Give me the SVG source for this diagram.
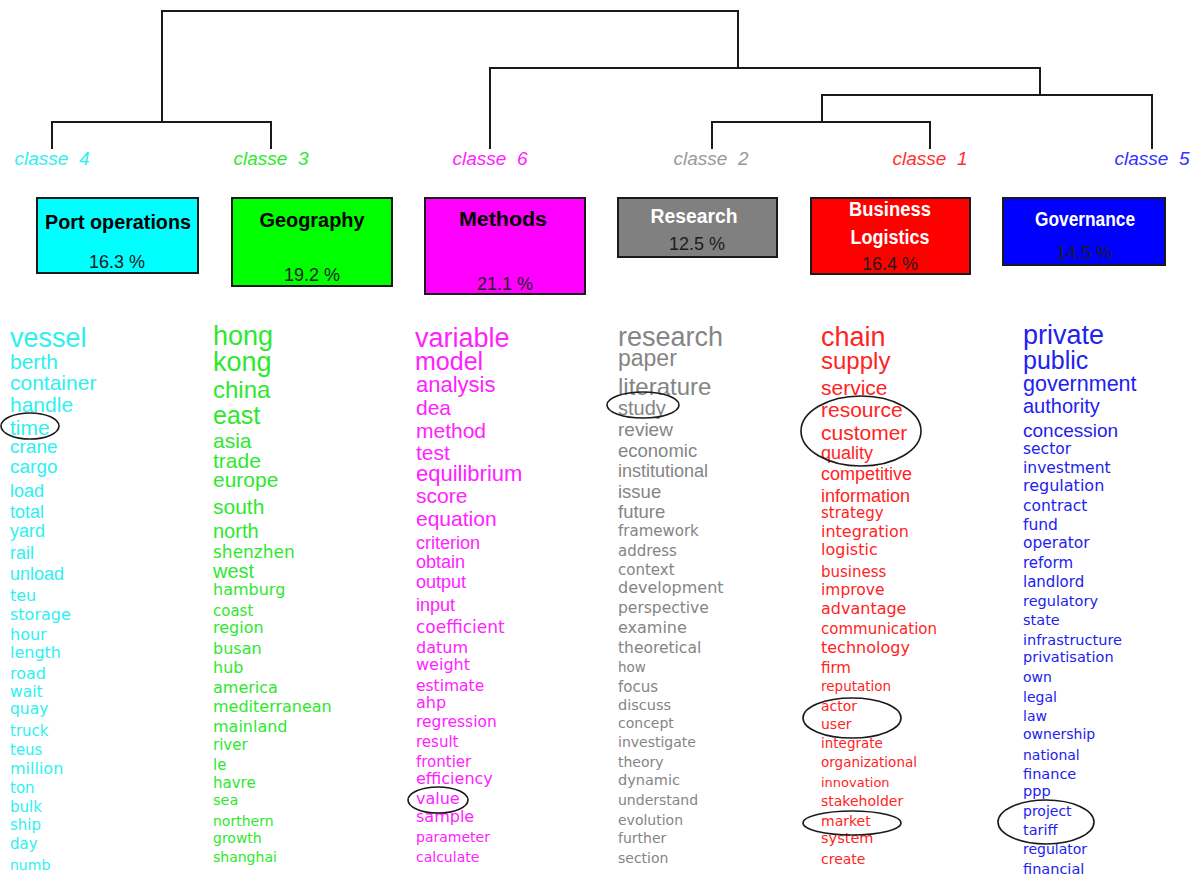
<svg xmlns="http://www.w3.org/2000/svg" width="1196" height="877" viewBox="0 0 1196 877">
<style>
.bg{fill:#ffffff}
.link{fill:none;stroke:#1a1a1a;stroke-width:2}
.cl{font-family:"Liberation Sans",Arial,sans-serif;font-style:italic;font-size:19px;text-anchor:middle}
.box{stroke:#1a1a1a;stroke-width:2}
.tt{font-family:"Liberation Sans",Arial,sans-serif;font-weight:bold;font-size:20px;text-anchor:middle}
.pc{font-family:"Liberation Sans",Arial,sans-serif;font-size:18px;text-anchor:middle;fill:#1c1c1c}
.A{font-family:"Liberation Sans",Arial,sans-serif}
.D{font-family:"DejaVu Sans",Verdana,sans-serif}
.k4{fill:#2ff0f0}.k3{fill:#2ee82e}.k6{fill:#ff22ff}.k2{fill:#858585}.k1{fill:#ff2424}.k5{fill:#2222ee}
.hl{fill:none;stroke:#1a1a1a;stroke-width:1.6}
</style>
<rect class="bg" x="0" y="0" width="1196" height="877"/>
<g id="connectors">
<path class="link" d="M162,122 V11 H738 V68"/>
<path class="link" d="M52,149 V122 H271 V149"/>
<path class="link" d="M490,149 V68 H1040 V95"/>
<path class="link" d="M822,122 V95 H1152 V149"/>
<path class="link" d="M712,149 V122 H930 V149"/>
</g>
<g id="class4">
<text class="cl k4" x="52" y="165" xml:space="preserve">classe  4</text>
<rect class="box" x="37" y="198" width="161" height="75" fill="#00ffff"/>
<text class="tt" x="118" y="229" fill="#000" textLength="146" lengthAdjust="spacingAndGlyphs">Port operations</text>
<text class="pc" x="117" y="268">16.3 %</text>
</g>
<g id="class3">
<text class="cl k3" x="271" y="165" xml:space="preserve">classe  3</text>
<rect class="box" x="232" y="198" width="160" height="88" fill="#00ff00"/>
<text class="tt" x="312" y="227" fill="#000" textLength="105" lengthAdjust="spacingAndGlyphs">Geography</text>
<text class="pc" x="312" y="281">19.2 %</text>
</g>
<g id="class6">
<text class="cl k6" x="490" y="165" xml:space="preserve">classe  6</text>
<rect class="box" x="425" y="198" width="160" height="96" fill="#ff00ff"/>
<text class="tt" x="503" y="226" fill="#000" textLength="88" lengthAdjust="spacingAndGlyphs">Methods</text>
<text class="pc" x="505" y="290">21.1 %</text>
</g>
<g id="class2">
<text class="cl" x="711" y="165" fill="#999999" xml:space="preserve">classe  2</text>
<rect class="box" x="618" y="198" width="159" height="59" fill="#808080"/>
<text class="tt" x="694" y="223" fill="#ffffff" textLength="87" lengthAdjust="spacingAndGlyphs">Research</text>
<text class="pc" x="697" y="250">12.5 %</text>
</g>
<g id="class1">
<text class="cl" x="930" y="165" fill="#ff3030" xml:space="preserve">classe  1</text>
<rect class="box" x="811" y="198" width="159" height="76" fill="#ff0000"/>
<text class="tt" x="890" y="216" fill="#ffffff" textLength="82" lengthAdjust="spacingAndGlyphs">Business</text>
<text class="tt" x="890" y="244" fill="#ffffff" textLength="79" lengthAdjust="spacingAndGlyphs">Logistics</text>
<text class="pc" x="890" y="270">16.4 %</text>
</g>
<g id="class5">
<text class="cl" x="1152" y="165" fill="#3333ff" xml:space="preserve">classe  5</text>
<rect class="box" x="1003" y="198" width="162" height="67" fill="#0000ff"/>
<text class="tt" x="1085" y="226" fill="#ffffff" textLength="100" lengthAdjust="spacingAndGlyphs">Governance</text>
<text class="pc" x="1084" y="259">14.5 %</text>
</g>
<g id="words-class4" class="k4">
<text class="A" x="10" y="347" font-size="27">vessel</text>
<text class="A" x="10" y="369" font-size="21">berth</text>
<text class="A" x="10" y="390" font-size="21">container</text>
<text class="A" x="10" y="412" font-size="21">handle</text>
<text class="A" x="10" y="435" font-size="21">time</text>
<text class="A" x="10" y="453" font-size="19">crane</text>
<text class="A" x="10" y="473" font-size="19">cargo</text>
<text class="A" x="10" y="497" font-size="18">load</text>
<text class="A" x="10" y="518" font-size="18">total</text>
<text class="A" x="10" y="537" font-size="18">yard</text>
<text class="A" x="10" y="559" font-size="18">rail</text>
<text class="A" x="10" y="580" font-size="18">unload</text>
<text class="D" x="10" y="601" font-size="16">teu</text>
<text class="D" x="10" y="620" font-size="16">storage</text>
<text class="D" x="10" y="640" font-size="16">hour</text>
<text class="D" x="10" y="658" font-size="16">length</text>
<text class="D" x="10" y="679" font-size="16">road</text>
<text class="D" x="10" y="697" font-size="15.5">wait</text>
<text class="D" x="10" y="714" font-size="15.5">quay</text>
<text class="D" x="10" y="736" font-size="15">truck</text>
<text class="D" x="10" y="755" font-size="15">teus</text>
<text class="D" x="10" y="774" font-size="16">million</text>
<text class="D" x="10" y="793" font-size="15">ton</text>
<text class="D" x="10" y="812" font-size="15">bulk</text>
<text class="D" x="10" y="830" font-size="15">ship</text>
<text class="D" x="10" y="849" font-size="15">day</text>
<text class="D" x="10" y="870" font-size="14">numb</text>
</g>
<g id="words-class3" class="k3">
<text class="A" x="213" y="345" font-size="27">hong</text>
<text class="A" x="213" y="371" font-size="27">kong</text>
<text class="A" x="213" y="398" font-size="24">china</text>
<text class="A" x="213" y="424" font-size="25">east</text>
<text class="A" x="213" y="448" font-size="21">asia</text>
<text class="A" x="213" y="468" font-size="21">trade</text>
<text class="A" x="213" y="487" font-size="21">europe</text>
<text class="A" x="213" y="514" font-size="21">south</text>
<text class="A" x="213" y="538" font-size="20">north</text>
<text class="D" x="213" y="558" font-size="17">shenzhen</text>
<text class="A" x="213" y="578" font-size="20">west</text>
<text class="D" x="213" y="595" font-size="16">hamburg</text>
<text class="D" x="213" y="616" font-size="15">coast</text>
<text class="D" x="213" y="633" font-size="16">region</text>
<text class="D" x="213" y="654" font-size="16">busan</text>
<text class="D" x="213" y="673" font-size="16">hub</text>
<text class="D" x="213" y="693" font-size="16">america</text>
<text class="D" x="213" y="712" font-size="16">mediterranean</text>
<text class="D" x="213" y="732" font-size="16">mainland</text>
<text class="D" x="213" y="750" font-size="15">river</text>
<text class="D" x="213" y="770" font-size="15">le</text>
<text class="D" x="213" y="788" font-size="15">havre</text>
<text class="D" x="213" y="805" font-size="14.5">sea</text>
<text class="D" x="213" y="826" font-size="14">northern</text>
<text class="D" x="213" y="843" font-size="14">growth</text>
<text class="D" x="213" y="862" font-size="14">shanghai</text>
</g>
<g id="words-class6" class="k6">
<text class="A" x="415" y="347" font-size="27">variable</text>
<text class="A" x="415" y="370" font-size="25">model</text>
<text class="A" x="416" y="392" font-size="22">analysis</text>
<text class="A" x="416" y="415" font-size="21">dea</text>
<text class="A" x="416" y="438" font-size="21">method</text>
<text class="A" x="416" y="460" font-size="21">test</text>
<text class="A" x="416" y="481" font-size="22">equilibrium</text>
<text class="A" x="416" y="503" font-size="21">score</text>
<text class="A" x="416" y="526" font-size="21">equation</text>
<text class="A" x="416" y="549" font-size="18">criterion</text>
<text class="A" x="416" y="568" font-size="18">obtain</text>
<text class="A" x="416" y="588" font-size="18">output</text>
<text class="A" x="416" y="611" font-size="18">input</text>
<text class="D" x="416" y="633" font-size="17">coefficient</text>
<text class="D" x="416" y="653" font-size="16">datum</text>
<text class="D" x="416" y="670" font-size="16">weight</text>
<text class="D" x="416" y="691" font-size="15.5">estimate</text>
<text class="D" x="416" y="708" font-size="16">ahp</text>
<text class="D" x="416" y="727" font-size="15.5">regression</text>
<text class="D" x="416" y="747" font-size="15">result</text>
<text class="D" x="416" y="767" font-size="15">frontier</text>
<text class="D" x="416" y="784" font-size="16">efficiency</text>
<text class="D" x="416" y="804" font-size="16">value</text>
<text class="D" x="416" y="822" font-size="16">sample</text>
<text class="D" x="416" y="842" font-size="14">parameter</text>
<text class="D" x="416" y="862" font-size="14">calculate</text>
</g>
<g id="words-class2" class="k2">
<text class="A" x="618" y="346" font-size="27">research</text>
<text class="A" x="618" y="366" font-size="23">paper</text>
<text class="A" x="618" y="395" font-size="24">literature</text>
<text class="A" x="618" y="415" font-size="20">study</text>
<text class="A" x="618" y="436" font-size="19">review</text>
<text class="A" x="618" y="457" font-size="18.5">economic</text>
<text class="A" x="618" y="477" font-size="18">institutional</text>
<text class="A" x="618" y="498" font-size="18.5">issue</text>
<text class="A" x="618" y="518" font-size="18.5">future</text>
<text class="D" x="618" y="536" font-size="15">framework</text>
<text class="D" x="618" y="556" font-size="15">address</text>
<text class="D" x="618" y="575" font-size="15">context</text>
<text class="D" x="618" y="593" font-size="16">development</text>
<text class="D" x="618" y="613" font-size="15.5">perspective</text>
<text class="D" x="618" y="633" font-size="16">examine</text>
<text class="D" x="618" y="653" font-size="15.5">theoretical</text>
<text class="D" x="618" y="672" font-size="13.5">how</text>
<text class="D" x="618" y="692" font-size="15">focus</text>
<text class="D" x="618" y="710" font-size="14.5">discuss</text>
<text class="D" x="618" y="728" font-size="14">concept</text>
<text class="D" x="618" y="747" font-size="14">investigate</text>
<text class="D" x="618" y="767" font-size="14">theory</text>
<text class="D" x="618" y="785" font-size="14.5">dynamic</text>
<text class="D" x="618" y="805" font-size="14">understand</text>
<text class="D" x="618" y="825" font-size="14">evolution</text>
<text class="D" x="618" y="843" font-size="14">further</text>
<text class="D" x="618" y="863" font-size="14">section</text>
</g>
<g id="words-class1" class="k1">
<text class="A" x="821" y="346" font-size="27">chain</text>
<text class="A" x="821" y="369" font-size="24">supply</text>
<text class="A" x="821" y="395" font-size="21">service</text>
<text class="A" x="821" y="417" font-size="21">resource</text>
<text class="A" x="821" y="440" font-size="21">customer</text>
<text class="A" x="821" y="459" font-size="18">quality</text>
<text class="A" x="821" y="480" font-size="18">competitive</text>
<text class="A" x="821" y="502" font-size="18">information</text>
<text class="D" x="821" y="518" font-size="15">strategy</text>
<text class="D" x="821" y="537" font-size="16">integration</text>
<text class="D" x="821" y="555" font-size="16">logistic</text>
<text class="D" x="821" y="577" font-size="15">business</text>
<text class="D" x="821" y="595" font-size="15.5">improve</text>
<text class="D" x="821" y="614" font-size="16">advantage</text>
<text class="D" x="821" y="634" font-size="15">communication</text>
<text class="D" x="821" y="653" font-size="16">technology</text>
<text class="D" x="821" y="673" font-size="15">firm</text>
<text class="D" x="821" y="691" font-size="13.5">reputation</text>
<text class="D" x="821" y="711" font-size="14">actor</text>
<text class="D" x="821" y="729" font-size="14">user</text>
<text class="D" x="821" y="748" font-size="13.5">integrate</text>
<text class="D" x="821" y="767" font-size="13.5">organizational</text>
<text class="D" x="821" y="787" font-size="13">innovation</text>
<text class="D" x="821" y="806" font-size="14">stakeholder</text>
<text class="D" x="821" y="826" font-size="14">market</text>
<text class="D" x="821" y="843" font-size="14.5">system</text>
<text class="D" x="821" y="864" font-size="14">create</text>
</g>
<g id="words-class5" class="k5">
<text class="A" x="1023" y="344" font-size="27">private</text>
<text class="A" x="1023" y="369" font-size="25">public</text>
<text class="A" x="1023" y="391" font-size="21.5">government</text>
<text class="A" x="1023" y="413" font-size="20">authority</text>
<text class="A" x="1023" y="437" font-size="19">concession</text>
<text class="D" x="1023" y="454" font-size="15.5">sector</text>
<text class="D" x="1023" y="473" font-size="15.5">investment</text>
<text class="D" x="1023" y="491" font-size="16">regulation</text>
<text class="D" x="1023" y="511" font-size="15.5">contract</text>
<text class="D" x="1023" y="530" font-size="15.5">fund</text>
<text class="D" x="1023" y="548" font-size="15.5">operator</text>
<text class="D" x="1023" y="568" font-size="15">reform</text>
<text class="D" x="1023" y="587" font-size="15">landlord</text>
<text class="D" x="1023" y="606" font-size="14.5">regulatory</text>
<text class="D" x="1023" y="625" font-size="14.5">state</text>
<text class="D" x="1023" y="645" font-size="14.5">infrastructure</text>
<text class="D" x="1023" y="662" font-size="14.5">privatisation</text>
<text class="D" x="1023" y="682" font-size="14">own</text>
<text class="D" x="1023" y="702" font-size="14">legal</text>
<text class="D" x="1023" y="721" font-size="14">law</text>
<text class="D" x="1023" y="739" font-size="14">ownership</text>
<text class="D" x="1023" y="760" font-size="14">national</text>
<text class="D" x="1023" y="779" font-size="14.5">finance</text>
<text class="D" x="1023" y="796" font-size="14.5">ppp</text>
<text class="D" x="1023" y="816" font-size="14">project</text>
<text class="D" x="1023" y="835" font-size="14.5">tariff</text>
<text class="D" x="1023" y="854" font-size="14">regulator</text>
<text class="D" x="1023" y="874" font-size="14.5">financial</text>
</g>
<g id="highlights">
<ellipse class="hl" cx="30" cy="426" rx="29" ry="13"/>
<ellipse class="hl" cx="643" cy="405" rx="36" ry="13"/>
<ellipse class="hl" cx="861" cy="431" rx="60" ry="35"/>
<ellipse class="hl" cx="438" cy="800" rx="30" ry="13"/>
<ellipse class="hl" cx="852" cy="718" rx="49" ry="20"/>
<ellipse class="hl" cx="852" cy="823" rx="49" ry="12"/>
<ellipse class="hl" cx="1046" cy="822" rx="48" ry="22"/>
</g>
</svg>
